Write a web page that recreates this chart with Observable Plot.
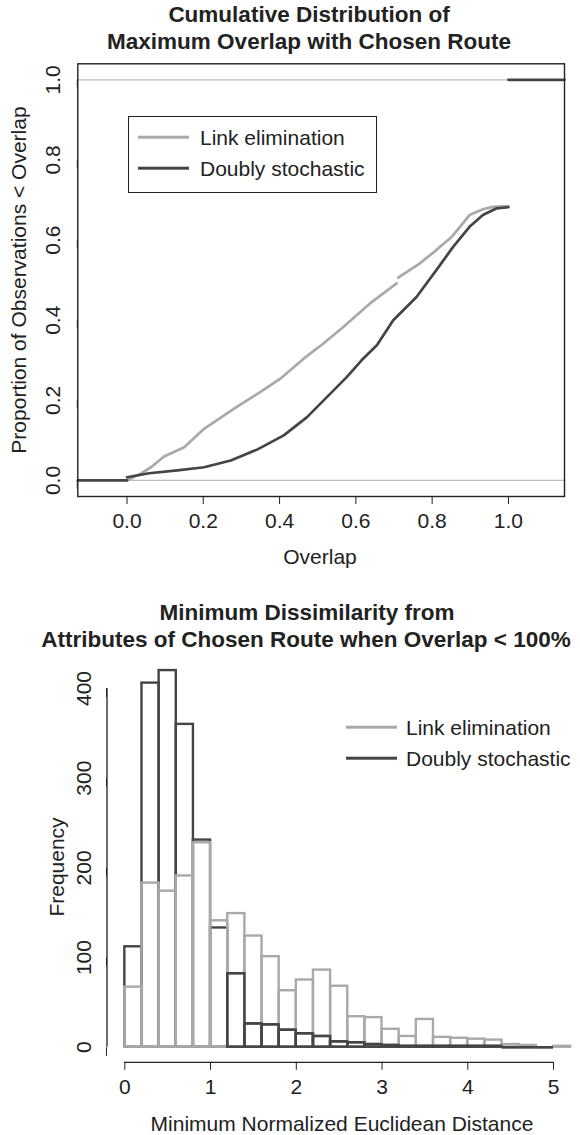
<!DOCTYPE html>
<html><head><meta charset="utf-8">
<script src="https://cdn.jsdelivr.net/npm/d3@7"></script>
<script src="https://cdn.jsdelivr.net/npm/@observablehq/plot@0.6"></script>
<style>
body{margin:0;background:#fff;}
#page{position:relative;width:580px;height:1135px;overflow:hidden;font-family:"Liberation Sans",Arial,sans-serif;color:#222;}
#page svg{position:absolute;left:0;}
.abs{position:absolute;white-space:nowrap;line-height:1;}
.title{font-weight:bold;font-size:22.5px;transform:translate(-50%,-50%);}
.lab{font-size:21px;transform:translate(-50%,-50%);}
.rot{font-size:21px;transform:translate(-50%,-50%) rotate(-90deg);}
.legtxt{font-size:21px;transform:translateY(-50%);}
.legline{height:2.6px;transform:translateY(-50%);}
.legbox{border:1.3px solid #222;box-sizing:border-box;}
</style></head><body><div id="page"></div>
<script>
// ---------- Chart 1: cumulative distribution of maximum overlap ----------
const overlapTicks = [0, 0.2, 0.4, 0.6, 0.8, 1.0];
const propTicks = [0, 0.2, 0.4, 0.6, 0.8, 1.0];
const refLevels = [0, 1];
// Link elimination ECDF (NaN = break in the step line)
const linkOverlap = [0.0, 0.036, 0.063, 0.097, 0.15, 0.202, 0.28, 0.35, 0.402, 0.463, 0.515, 0.567, 0.637, 0.707, NaN, 0.711, 0.768, 0.811, 0.85, 0.872, 0.898, 0.933, 0.959, 1.0];
const linkProp    = [0.0, 0.017, 0.033, 0.06, 0.083, 0.129, 0.179, 0.221, 0.254, 0.304, 0.342, 0.383, 0.442, 0.492, NaN, 0.506, 0.542, 0.575, 0.607, 0.632, 0.6625, 0.677, 0.683, 0.685];
// Doubly stochastic ECDF
const dsOverlap = [-0.129, 0.0, NaN, 0.0, 0.058, 0.132, 0.202, 0.272, 0.341, 0.411, 0.472, 0.524, 0.576, 0.615, 0.655, 0.698, 0.759, 0.811, 0.855, 0.898, 0.933, 0.968, 1.0, NaN, 1.0, 1.147];
const dsProp    = [0, 0, NaN, 0.008, 0.018, 0.025, 0.033, 0.05, 0.077, 0.1125, 0.158, 0.208, 0.258, 0.3, 0.3375, 0.4, 0.458, 0.525, 0.583, 0.633, 0.6625, 0.679, 0.682, NaN, 1, 1];

// ---------- Chart 2: histogram of minimum normalized Euclidean distance ----------
const binEdges = [0,0.2,0.4,0.6,0.8,1.0,1.2,1.4,1.6,1.8,2.0,2.2,2.4,2.6,2.8,3.0,3.2,3.4,3.6,3.8,4.0,4.2,4.4,4.6,4.8,5.0,5.2];
const linkCounts = [67,183,174,191,228,141,149,124,101,63,75,86,68,34,33,20,12,31,11,10,9,8,3,2,0,1];
const dsCounts   = [112,406,420,360,231,133,82,26,25,19,15,12,6,5,3,2,1,1,1,1,1,1,0,0,0];
const distTicks = [0,1,2,3,4,5];
const freqTicks = [0,100,200,300,400];

const LIGHT = "#a9a9a9", DARK = "#444444", INK = "#222222";
const FONT = '"Liberation Sans", Arial, sans-serif';
const page = document.getElementById("page");

function el(cls, text, css){ const d=document.createElement("div"); d.className="abs "+cls; if(text!=null) d.textContent=text; Object.assign(d.style, css); page.appendChild(d); return d; }

// Chart 1
const rows = (xs, ys) => xs.map((x,i)=>({x, y: ys[i]}));
const plot1 = Plot.plot({
  width: 580, height: 590,
  marginLeft: 77.3, marginRight: 16, marginTop: 63.3, marginBottom: 94,
  style: {background: "transparent", fontFamily: FONT, fontSize: "21px", color: INK, overflow: "visible"},
  x: {domain: [-0.129, 1.147]},
  y: {domain: [-0.04, 1.04]},
  marks: [
    Plot.ruleY(refLevels, {stroke: "#bdbdbd", strokeWidth: 1.2}),
    Plot.line(rows(linkOverlap, linkProp), {x: "x", y: "y", stroke: LIGHT, strokeWidth: 2.7}),
    Plot.line(rows(dsOverlap, dsProp), {x: "x", y: "y", stroke: DARK, strokeWidth: 2.7}),
    Plot.frame({stroke: INK, strokeWidth: 1.4}),
    Plot.axisX({ticks: overlapTicks, tickFormat: d3.format(".1f"), tickSize: 8, tickPadding: 9, label: null, fontSize: 21}),
    Plot.axisY({ticks: propTicks, tickFormat: d3.format(".1f"), tickSize: 8, tickPadding: 17, rotate: -90, textAnchor: "middle", label: null, fontSize: 21})
  ]
});
plot1.style.top = "0px";
page.appendChild(plot1);

// Chart 2
const bins = binEdges.slice(0, -1).map((x0, i) => ({x0, x1: binEdges[i+1], link: linkCounts[i], ds: dsCounts[i]}));
const dsBins = bins.filter(b => b.ds != null);
const xLo = -0.208, xHi = 5.408, yLo = -16.8, yHi = 436.8;
const histMarks = (data, key, color) => [
  Plot.rectY(data.filter(b => b[key] > 0), {x1: "x0", x2: "x1", y: key, fill: "none", stroke: color, strokeWidth: 2.4}),
  Plot.ruleY(data.filter(b => b[key] === 0), {y: key, x1: "x0", x2: "x1", stroke: color, strokeWidth: 2.4})
];
const plot2 = Plot.plot({
  width: 580, height: 485,
  marginLeft: 106.5, marginRight: 0, marginTop: 5, marginBottom: 73.2,
  style: {background: "transparent", fontFamily: FONT, fontSize: "21px", color: INK, overflow: "visible"},
  x: {domain: [xLo, xHi], range: [106.5, 588]},
  y: {domain: [yLo, yHi]},
  marks: [
    ...histMarks(dsBins, "ds", DARK),
    ...histMarks(bins, "link", LIGHT),
    ...histMarks(dsBins.filter(b => b.x0 >= 1.2), "ds", DARK),
    Plot.ruleY([{y: yLo, x1: distTicks[0], x2: distTicks[distTicks.length-1]}], {y: "y", x1: "x1", x2: "x2", stroke: INK, strokeWidth: 1.3}),
    Plot.ruleX([{x: xLo, y1: freqTicks[0], y2: freqTicks[freqTicks.length-1]}], {x: "x", y1: "y1", y2: "y2", stroke: INK, strokeWidth: 1.3}),
    Plot.axisX({ticks: distTicks, tickFormat: d3.format("d"), tickSize: 8, tickPadding: 9, label: null, fontSize: 21}),
    Plot.axisY({ticks: freqTicks, tickFormat: d3.format("d"), tickSize: 8.5, tickPadding: 14, rotate: -90, textAnchor: "middle", label: null, fontSize: 21})
  ]
});
plot2.style.top = "650px";
page.appendChild(plot2);

// Titles and axis titles
el("title", "Cumulative Distribution of", {left: "309px", top: "15px"});
el("title", "Maximum Overlap with Chosen Route", {left: "309px", top: "41.7px"});
el("lab", "Overlap", {left: "320px", top: "556px"});
el("rot", "Proportion of Observations < Overlap", {left: "18px", top: "280px"});

el("title", "Minimum Dissimilarity from", {left: "307px", top: "613px"});
el("title", "Attributes of Chosen Route when Overlap < 100%", {left: "306px", top: "640px"});
el("lab", "Minimum Normalized Euclidean Distance", {left: "342px", top: "1123px"});
el("rot", "Frequency", {left: "56px", top: "867px"});

// Legends
const series = [{name: "Link elimination", color: LIGHT}, {name: "Doubly stochastic", color: DARK}];
el("legbox", null, {left: "127.7px", top: "116px", width: "249px", height: "77px"});
series.forEach((s, i) => {
  const y = 137 + i * 31.3;
  el("legline", null, {left: "138px", top: y + "px", width: "51px", background: s.color});
  el("legtxt", s.name, {left: "200px", top: y + "px"});
  const y2 = 727 + i * 31.3;
  el("legline", null, {left: "346px", top: y2 + "px", width: "51px", background: s.color});
  el("legtxt", s.name, {left: "406px", top: y2 + "px"});
});
</script></body></html>
